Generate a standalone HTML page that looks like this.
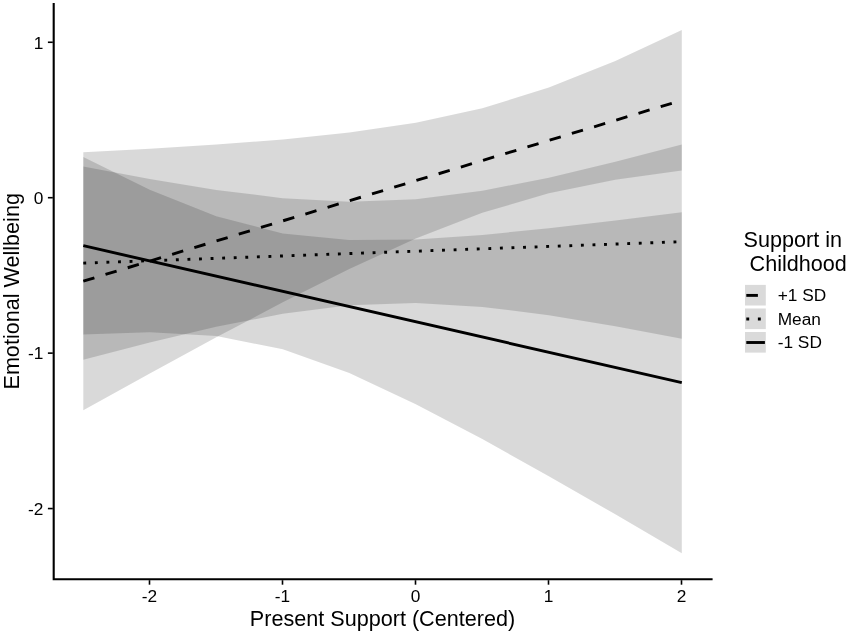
<!DOCTYPE html>
<html><head><meta charset="utf-8"><title>Emotional Wellbeing by Present Support</title>
<style>html,body{margin:0;padding:0;background:#fff}svg{display:block}text{font-family:"Liberation Sans",Arial,Helvetica,sans-serif;fill:#000}</style></head><body>
<svg width="851" height="635" viewBox="0 0 851 635">
<rect width="851" height="635" fill="#fff"/>
<polygon points="83.30,156.98 149.80,189.65 216.30,216.35 282.80,233.42 349.30,240.05 415.80,239.44 482.30,234.91 548.80,228.31 615.30,220.57 681.80,212.15 681.80,553.18 615.30,514.32 548.80,476.14 482.30,439.10 415.80,404.13 349.30,373.09 282.80,349.28 216.30,335.91 149.80,332.18 83.30,334.41" fill="#000" fill-opacity="0.15"/>
<polygon points="83.30,166.41 149.80,179.01 216.30,189.97 282.80,198.13 349.30,201.77 415.80,199.28 482.30,190.70 548.80,177.65 615.30,161.85 681.80,144.45 681.80,338.86 615.30,326.22 548.80,315.20 482.30,306.91 415.80,303.10 349.30,305.37 282.80,313.78 216.30,326.71 149.80,342.43 83.30,359.80" fill="#000" fill-opacity="0.15"/>
<polygon points="83.30,152.17 149.80,148.71 216.30,144.58 282.80,139.42 349.30,132.54 415.80,122.73 482.30,108.26 548.80,87.59 615.30,60.92 681.80,29.90 681.80,170.59 615.30,179.77 548.80,193.31 482.30,212.85 415.80,238.58 349.30,268.98 282.80,302.30 216.30,337.34 149.80,373.42 83.30,410.16" fill="#000" fill-opacity="0.15"/>
<line x1="83.30" y1="245.70" x2="681.80" y2="382.66" stroke="#000" stroke-width="2.9"/>
<line x1="83.30" y1="263.10" x2="681.80" y2="241.66" stroke="#000" stroke-width="2.9" stroke-dasharray="2.9 8.68"/>
<line x1="83.30" y1="281.17" x2="681.80" y2="100.25" stroke="#000" stroke-width="2.9" stroke-dasharray="11.6 11.6"/>
<path d="M53.7 3 V579.3 H712.6" fill="none" stroke="#000" stroke-width="2.1" stroke-linecap="butt" stroke-linejoin="miter"/>
<line x1="149.50" y1="580.2" x2="149.50" y2="584.7" stroke="#000" stroke-width="1.6"/>
<text x="149.50" y="601.8" font-size="17.3" text-anchor="middle">-2</text>
<line x1="282.50" y1="580.2" x2="282.50" y2="584.7" stroke="#000" stroke-width="1.6"/>
<text x="282.50" y="601.8" font-size="17.3" text-anchor="middle">-1</text>
<line x1="415.50" y1="580.2" x2="415.50" y2="584.7" stroke="#000" stroke-width="1.6"/>
<text x="415.50" y="601.8" font-size="17.3" text-anchor="middle">0</text>
<line x1="548.50" y1="580.2" x2="548.50" y2="584.7" stroke="#000" stroke-width="1.6"/>
<text x="548.50" y="601.8" font-size="17.3" text-anchor="middle">1</text>
<line x1="681.50" y1="580.2" x2="681.50" y2="584.7" stroke="#000" stroke-width="1.6"/>
<text x="681.50" y="601.8" font-size="17.3" text-anchor="middle">2</text>
<line x1="47.9" y1="508.56" x2="52.8" y2="508.56" stroke="#000" stroke-width="1.6"/>
<text x="43.4" y="514.86" font-size="17.3" text-anchor="end">-2</text>
<line x1="47.9" y1="353.13" x2="52.8" y2="353.13" stroke="#000" stroke-width="1.6"/>
<text x="43.4" y="359.43" font-size="17.3" text-anchor="end">-1</text>
<line x1="47.9" y1="197.70" x2="52.8" y2="197.70" stroke="#000" stroke-width="1.6"/>
<text x="43.4" y="204.00" font-size="17.3" text-anchor="end">0</text>
<line x1="47.9" y1="42.27" x2="52.8" y2="42.27" stroke="#000" stroke-width="1.6"/>
<text x="43.4" y="48.57" font-size="17.3" text-anchor="end">1</text>
<text x="382.5" y="625.8" font-size="21.6" text-anchor="middle">Present Support (Centered)</text>
<text transform="translate(18.9 291.3) rotate(-90)" font-size="21.6" text-anchor="middle">Emotional Wellbeing</text>
<text x="743.6" y="247" font-size="21.6">Support in</text>
<text x="743.6" y="270.5" font-size="21.6" xml:space="preserve"> Childhood</text>
<rect x="745" y="284.90" width="20.8" height="20.6" fill="#dadada"/>
<line x1="746.3" y1="295.40" x2="764.9" y2="295.40" stroke="#000" stroke-width="2.9" stroke-dasharray="11.6 11.6"/>
<text x="777.7" y="301.00" font-size="17.3">+1 SD</text>
<rect x="745" y="308.50" width="20.8" height="20.6" fill="#dadada"/>
<line x1="746.3" y1="319.00" x2="764.9" y2="319.00" stroke="#000" stroke-width="2.9" stroke-dasharray="2.9 8.68"/>
<text x="777.7" y="324.60" font-size="17.3">Mean</text>
<rect x="745" y="332.00" width="20.8" height="20.6" fill="#dadada"/>
<line x1="746.3" y1="342.50" x2="764.9" y2="342.50" stroke="#000" stroke-width="2.9"/>
<text x="777.7" y="348.10" font-size="17.3">-1 SD</text>
</svg></body></html>
